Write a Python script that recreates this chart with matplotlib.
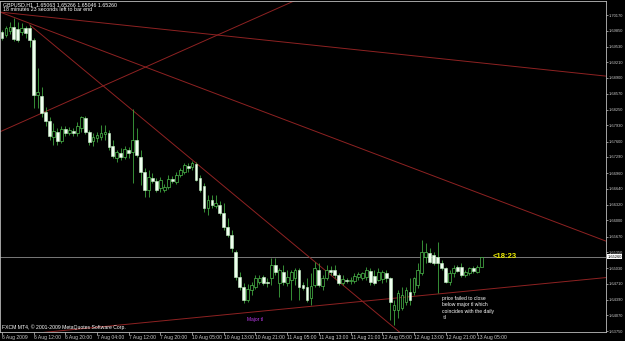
import numpy as np
import matplotlib
matplotlib.use('Agg')
import matplotlib.pyplot as plt

# GBPUSD H1 candles, prices in 1/10000 (pips)
opens = [16983, 16976, 16985, 16993, 16989, 16983, 16991, 16991, 16966, 16855,
         16853, 16820, 16802, 16769, 16780, 16761, 16786, 16778, 16782, 16778,
         16788, 16808, 16780, 16761, 16767, 16769, 16775, 16778, 16751, 16727,
         16737, 16729, 16743, 16739, 16763, 16729, 16698, 16662, 16686, 16680,
         16666, 16662, 16668, 16684, 16678, 16692, 16698, 16711, 16708, 16715,
         16686, 16670, 16625, 16641, 16629, 16631, 16615, 16587, 16570, 16536,
         16485, 16465, 16438, 16459, 16465, 16475, 16485, 16475, 16483, 16510,
         16473, 16495, 16473, 16479, 16483, 16499, 16469, 16465, 16443, 16469,
         16499, 16467, 16483, 16499, 16499, 16489, 16473, 16479, 16477, 16477,
         16485, 16483, 16485, 16497, 16487, 16479, 16481, 16493, 16483, 16418,
         16418, 16422, 16434, 16455, 16455, 16469, 16493, 16526, 16534, 16530,
         16526, 16514, 16503, 16475, 16493, 16505, 16505, 16489, 16493, 16503,
         16495, 16506.3]
highs = [16987, 16995, 17003, 17011, 17003, 17001, 16995, 16997, 16970, 16909,
         16871, 16830, 16810, 16798, 16788, 16792, 16792, 16790, 16788, 16800,
         16812, 16812, 16784, 16778, 16780, 16794, 16794, 16784, 16763, 16743,
         16747, 16751, 16749, 16826, 16788, 16743, 16706, 16702, 16696, 16686,
         16688, 16674, 16692, 16690, 16698, 16706, 16717, 16717, 16721, 16719,
         16692, 16676, 16652, 16652, 16652, 16639, 16635, 16605, 16581, 16540,
         16495, 16473, 16471, 16475, 16489, 16489, 16489, 16483, 16524, 16524,
         16503, 16510, 16499, 16499, 16503, 16503, 16475, 16483, 16493, 16516,
         16514, 16489, 16510, 16508, 16510, 16493, 16489, 16483, 16485, 16493,
         16495, 16495, 16505, 16503, 16499, 16503, 16499, 16499, 16485, 16438,
         16459, 16465, 16465, 16483, 16485, 16514, 16560, 16554, 16544, 16536,
         16556, 16520, 16505, 16499, 16510, 16510, 16514, 16499, 16505, 16508,
         16510, 16526.6]
lows = [16966, 16972, 16978, 16964, 16962, 16976, 16970, 16952, 16828, 16828,
        16810, 16792, 16763, 16753, 16753, 16757, 16771, 16773, 16771, 16771,
        16780, 16775, 16753, 16751, 16759, 16763, 16763, 16743, 16727, 16719,
        16723, 16725, 16727, 16676, 16729, 16672, 16648, 16648, 16676, 16658,
        16658, 16658, 16664, 16676, 16674, 16688, 16694, 16698, 16702, 16680,
        16658, 16617, 16611, 16625, 16625, 16611, 16581, 16566, 16536, 16479,
        16459, 16432, 16434, 16449, 16461, 16471, 16469, 16465, 16469, 16489,
        16445, 16469, 16467, 16438, 16469, 16438, 16459, 16434, 16428, 16465,
        16465, 16459, 16479, 16489, 16483, 16469, 16469, 16473, 16471, 16473,
        16479, 16479, 16479, 16469, 16469, 16477, 16473, 16475, 16398, 16388,
        16402, 16418, 16428, 16428, 16449, 16463, 16489, 16514, 16514, 16510,
        16453, 16499, 16473, 16469, 16485, 16495, 16485, 16485, 16489, 16493,
        16493, 16504.6]
closes = [16970, 16991, 16993, 16968, 16966, 16991, 16981, 16966, 16855, 16861,
          16818, 16802, 16771, 16782, 16761, 16786, 16778, 16784, 16778, 16792,
          16810, 16780, 16759, 16769, 16773, 16778, 16780, 16749, 16731, 16739,
          16729, 16745, 16737, 16763, 16733, 16698, 16662, 16688, 16680, 16662,
          16682, 16668, 16684, 16680, 16692, 16702, 16713, 16706, 16717, 16682,
          16662, 16625, 16641, 16631, 16635, 16615, 16587, 16570, 16544, 16485,
          16465, 16438, 16461, 16469, 16483, 16483, 16473, 16473, 16510, 16495,
          16499, 16475, 16485, 16495, 16499, 16465, 16463, 16438, 16467, 16503,
          16469, 16483, 16499, 16495, 16489, 16473, 16481, 16477, 16479, 16487,
          16491, 16493, 16499, 16475, 16473, 16495, 16495, 16483, 16434, 16428,
          16453, 16449, 16459, 16438, 16483, 16499, 16536, 16536, 16516, 16514,
          16514, 16503, 16475, 16493, 16503, 16497, 16489, 16495, 16503, 16497,
          16505, 16526.0]

# time axis labels, one every 8 bars
tick_bars = [0, 8, 16, 24, 32, 40, 48, 56, 64, 72, 80, 88, 96, 104, 112, 120]
tick_text = ['6 Aug 2009', '6 Aug 12:00', '6 Aug 20:00', '7 Aug 04:00', '7 Aug 12:00',
             '7 Aug 20:00', '10 Aug 05:00', '10 Aug 13:00', '10 Aug 21:00',
             '11 Aug 05:00', '11 Aug 13:00', '11 Aug 21:00', '12 Aug 05:00',
             '12 Aug 13:00', '12 Aug 21:00', '13 Aug 05:00']

price_ticks = [1.70170, 1.69850, 1.69530, 1.69210, 1.68900, 1.68570, 1.68250,
               1.67930, 1.67600, 1.67290, 1.66960, 1.66640, 1.66320, 1.66000,
               1.65670, 1.65350, 1.65030, 1.64710, 1.64390, 1.64070, 1.63750]

# trend lines: (bar, price) -> (bar, price)
trendlines = [
    ((-0.5, 1.7023), (152.5, 1.6893)),
    ((-0.5, 1.7023), (152.5, 1.6558)),
    ((7, 1.6997), (104, 1.6349)),
    ((-0.5, 1.6780), (80.3, 1.7069)),
    ((-0.5, 1.6364), (152.5, 1.6484)),
]

last_price = 1.65260

FONTS = ['Liberation Sans Narrow', 'Liberation Sans', 'DejaVu Sans']
plt.rcParams['font.family'] = FONTS

o = np.array(opens) / 1e4
h = np.array(highs) / 1e4
l = np.array(lows) / 1e4
c = np.array(closes) / 1e4
idx = np.arange(len(o))
up = c >= o

fig = plt.figure(figsize=(6.25, 3.41), dpi=100, facecolor='black')
ax = fig.add_axes([0.0, 9 / 341, 606 / 625, 331 / 341], facecolor='black')

ax.axhline(last_price, color='#8c8c8c', lw=0.6, zorder=1)
for (x0, y0), (x1, y1) in trendlines:
    ax.plot([x0, x1], [y0, y1], color='#8e2222', lw=0.7, zorder=2)

ax.vlines(idx, l, h, color='#3fa53f', lw=0.6, zorder=3)
ax.bar(idx[up], np.maximum((c - o)[up], 0.00002), bottom=o[up], width=0.7,
       color='black', edgecolor='#4fc04f', lw=0.5, zorder=4)
ax.bar(idx[~up], (o - c)[~up], bottom=c[~up], width=0.7,
       color='#f0fff0', edgecolor='#c8f5c8', lw=0.4, zorder=4)

ax.set_xlim(-0.5, 152.5)
ax.set_ylim(1.63735, 1.70455)

for s in ax.spines.values():
    s.set_color('#bdbdbd')
    s.set_linewidth(0.6)

ax.yaxis.tick_right()
ax.set_yticks(price_ticks)
ax.set_yticklabels([f'{p:.5f}' for p in price_ticks])
ax.tick_params(axis='y', colors='#c8c8c8', labelsize=2.9, length=1.5, width=0.5, pad=0.5)
ax.set_xticks(tick_bars)
ax.set_xticklabels(tick_text)
ax.tick_params(axis='x', colors='#c8c8c8', labelsize=3.6, length=2, width=0.5, pad=0.5)
for lbl in ax.get_xticklabels():
    lbl.set_ha('left')

# current price tag on the scale
ax.text(1.002, last_price, '1.65260', transform=ax.get_yaxis_transform(),
        fontsize=2.9, color='black', va='center', ha='left',
        bbox=dict(boxstyle='square,pad=0.1', fc='white', ec='none'))

ax.text(0.005, 0.988, 'GBPUSD,H1  1.65063 1.65266 1.65046 1.65260',
        transform=ax.transAxes, fontsize=3.8, color='white', va='center', ha='left')
ax.text(0.005, 0.973, '18 minutes 23 seconds left to bar end',
        transform=ax.transAxes, fontsize=3.8, color='white', va='center', ha='left')
ax.text(0.003, 0.015, 'FXCM MT4, \u00a9 2001-2009 MetaQuotes Software Corp.',
        transform=ax.transAxes, fontsize=3.7, color='white', va='center', ha='left')

ax.text(124, last_price, '<18:23', fontsize=5.5, color='#f0f000',
        fontweight='bold', va='center', ha='left')
ax.text(61.9, 1.6398, 'Major tl', fontsize=3.5, color='#c03cf0', va='center', ha='left')
ax.text(111.1, 1.6447, 'price failed to close\nbelow major tl which\ncoincides with the daily\n tl',
        fontsize=3.6, color='white', va='top', ha='left', linespacing=1.35)

fig.savefig('out.png', dpi=100, facecolor='black')
